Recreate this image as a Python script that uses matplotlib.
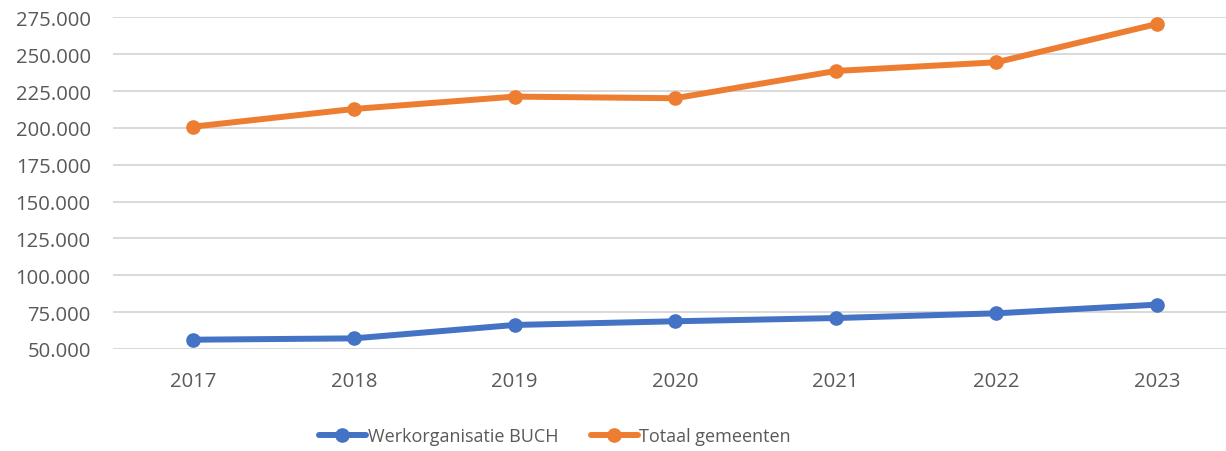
import numpy as np
import matplotlib.pyplot as plt
from matplotlib.ticker import FuncFormatter

# data
years = ["2017", "2018", "2019", "2020", "2021", "2022", "2023"]
buch = [56300, 57200, 66300, 68800, 71000, 74200, 80100]
totaal = [200900, 212900, 221300, 220200, 238700, 244600, 270600]

plt.rcParams['font.family'] = ['Open Sans', 'DejaVu Sans']

fig = plt.figure(figsize=(12.26, 4.52), dpi=100)
ax = fig.add_axes([0.0922, 0.2257, 0.9078, 0.7334])

x = np.arange(len(years))
ax.plot(x, buch, color='#4472C4', lw=4.3, marker='o', ms=9.5,
        label='Werkorganisatie BUCH', solid_capstyle='round', zorder=3)
ax.plot(x, totaal, color='#ED7D31', lw=4.3, marker='o', ms=9.5,
        label='Totaal gemeenten', solid_capstyle='round', zorder=3)

ax.set_ylim(50000, 275000)
ax.set_yticks(np.arange(50000, 275001, 25000))
ax.yaxis.set_major_formatter(FuncFormatter(lambda v, p: f"{int(v):,}".replace(",", ".")))
ax.set_xlim(-0.5, 6.43)
ax.set_xticks(x)
ax.set_xticklabels(years)

ax.grid(axis='y', color='#d9d9d9', lw=1.4)
ax.set_axisbelow(True)
for s in ax.spines.values():
    s.set_visible(False)
ax.tick_params(axis='both', length=0, labelsize=14.6, labelcolor='#595959')
ax.tick_params(axis='y', pad=16)
ax.tick_params(axis='x', pad=16)

fig.legend(loc='center', bbox_to_anchor=(555 / 1226, 1 - 437 / 452), ncol=2,
           frameon=False, fontsize=13, handlelength=2.6, handletextpad=0.1,
           columnspacing=1.8, labelcolor='#595959')

fig.savefig("out.png", dpi=100)
